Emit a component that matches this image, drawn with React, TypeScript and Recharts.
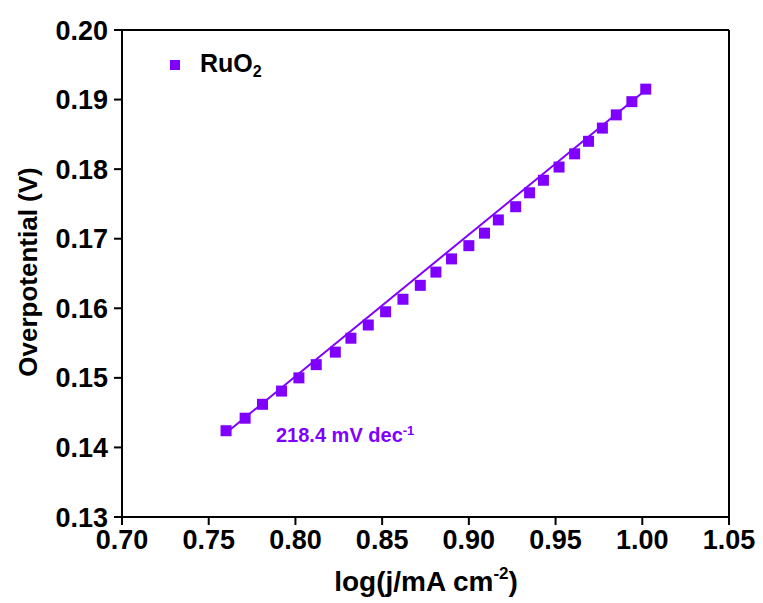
import {
  ComposedChart,
  Scatter,
  Line,
  XAxis,
  YAxis,
  ReferenceLine,
  Label,
} from "recharts";

// log(j) values and overpotentials
const logJ = [
  0.760, 0.771, 0.781, 0.792, 0.802, 0.812, 0.823, 0.832, 0.842, 0.852,
  0.862, 0.872, 0.881, 0.890, 0.900, 0.909, 0.917, 0.927, 0.935, 0.943,
  0.952, 0.961, 0.969, 0.977, 0.985, 0.994, 1.002,
];
const overpotential = [
  0.1424, 0.1442, 0.1462, 0.1481, 0.1500, 0.1519, 0.1537, 0.1557, 0.1576, 0.1595,
  0.1613, 0.1633, 0.1652, 0.1671, 0.1690, 0.1708, 0.1727, 0.1746, 0.1766, 0.1784,
  0.1803, 0.1822, 0.1840, 0.1859, 0.1878, 0.1897, 0.1915,
];
// linear fit, ends
const fitX = [0.76, 1.002];
const fitY = [0.14207, 0.19138];

const xTicks = [0.7, 0.75, 0.8, 0.85, 0.9, 0.95, 1.0, 1.05];
const yTicks = [0.13, 0.14, 0.15, 0.16, 0.17, 0.18, 0.19, 0.2];

const PURPLE = "#8000ff";
const FONT = "'Liberation Sans', Arial, sans-serif";

const points = logJ.map((x, i) => ({ x, y: overpotential[i] }));
const fit = fitX.map((x, i) => ({ x, y: fitY[i] }));

const Square = (props: any) => {
  const { cx, cy } = props;
  return <rect x={cx - 5.5} y={cy - 5.5} width={11} height={11} fill={PURPLE} />;
};

const tickStyle = { fontSize: 27, fontWeight: 700, fill: "#000", fontFamily: FONT };

export default function App() {
  return (
    <div style={{ position: "absolute", left: 0, top: 0, width: 763, height: 603, background: "#fff" }}>
      <ComposedChart
        width={763}
        height={603}
        margin={{ top: 30, right: 34, left: 0, bottom: 0 }}
      >
        <XAxis
          dataKey="x"
          type="number"
          domain={[0.7, 1.05]}
          ticks={xTicks}
          tickFormatter={(v: number) => v.toFixed(2)}
          height={86}
          tickSize={8}
          tickMargin={5}
          axisLine={{ stroke: "#000", strokeWidth: 2 }}
          tickLine={{ stroke: "#000", strokeWidth: 2 }}
          tick={tickStyle}
          interval={0}
        >
          <Label
            content={() => (
              <text
                x={426}
                y={591}
                textAnchor="middle"
                fontSize={28}
                fontWeight={700}
                fontFamily={FONT}
                fill="#000"
              >
                log(j/mA cm
                <tspan fontSize={17} dy={-12}>-2</tspan>
                <tspan dy={12}>)</tspan>
              </text>
            )}
          />
        </XAxis>
        <YAxis
          type="number"
          dataKey="y"
          domain={[0.13, 0.2]}
          ticks={yTicks}
          tickFormatter={(v: number) => v.toFixed(2)}
          width={122}
          tickSize={8}
          tickMargin={6}
          axisLine={{ stroke: "#000", strokeWidth: 2 }}
          tickLine={{ stroke: "#000", strokeWidth: 2 }}
          tick={tickStyle}
          interval={0}
        >
          <Label
            content={() => (
              <text
                x={37}
                y={272}
                transform="rotate(-90 37 272)"
                textAnchor="middle"
                fontSize={26}
                fontWeight={700}
                fontFamily={FONT}
                fill="#000"
              >
                Overpotential (V)
              </text>
            )}
          />
        </YAxis>
        <ReferenceLine y={0.2} stroke="#000" strokeWidth={2} />
        <ReferenceLine x={1.05} stroke="#000" strokeWidth={2} />
        <Line
          data={fit}
          dataKey="y"
          stroke={PURPLE}
          strokeWidth={2}
          dot={false}
          isAnimationActive={false}
        />
        <Scatter
          data={points}
          dataKey="y"
          name="RuO2"
          shape={Square}
          isAnimationActive={false}
        />
      </ComposedChart>
      {/* legend */}
      <div
        style={{
          position: "absolute",
          left: 170,
          top: 49,
          display: "flex",
          alignItems: "center",
          fontFamily: FONT,
          whiteSpace: "nowrap",
        }}
      >
        <div style={{ width: 10, height: 10, background: PURPLE, marginRight: 20 }} />
        <span style={{ fontSize: 25, fontWeight: 700, color: "#000" }}>
          RuO<sub style={{ fontSize: 16, verticalAlign: -5 }}>2</sub>
        </span>
      </div>
      {/* slope annotation */}
      <div
        style={{
          position: "absolute",
          left: 276,
          top: 423,
          fontFamily: FONT,
          fontSize: 20,
          fontWeight: 700,
          color: PURPLE,
          whiteSpace: "nowrap",
        }}
      >
        218.4 mV dec<sup style={{ fontSize: 13, verticalAlign: 7 }}>-1</sup>
      </div>
    </div>
  );
}
